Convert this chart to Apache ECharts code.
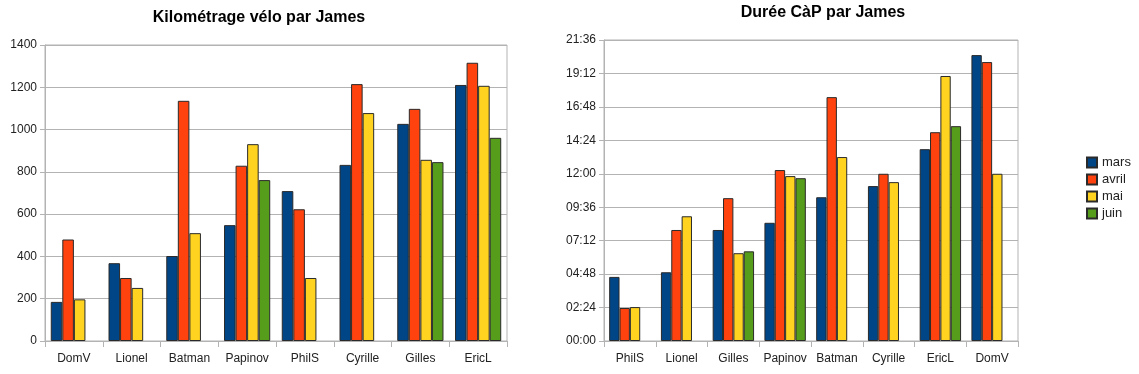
<!DOCTYPE html>
<html>
<head>
<meta charset="utf-8">
<script src="https://cdn.jsdelivr.net/npm/echarts@6/dist/echarts.min.js"></script>
<style>
html,body{margin:0;padding:0;background:#fff;}
#c{width:1139px;height:374px;}
</style>
</head>
<body>
<div id="c"></div>
<script>
const seriesNames = ['mars', 'avril', 'mai', 'juin'];
const seriesColors = ['#004586', '#ff420e', '#ffd320', '#579d1c'];

const kmTitle = 'Kilométrage vélo par James';
const kmCategories = ['DomV', 'Lionel', 'Batman', 'Papinov', 'PhilS', 'Cyrille', 'Gilles', 'EricL'];
const kmMars  = [185, 368, 402, 548, 709, 833, 1027, 1211];
const kmAvril = [480, 298, 1136, 829, 623, 1215, 1098, 1316];
const kmMai   = [197, 251, 510, 931, 298, 1078, 857, 1207];
const kmJuin  = [null, null, null, 761, null, null, 846, 961];

const capTitle = 'Durée CàP par James';
const capCategories = ['PhilS', 'Lionel', 'Gilles', 'Papinov', 'Batman', 'Cyrille', 'EricL', 'DomV'];
const capMars  = ['04:36', '04:56', '07:58', '08:29', '10:19', '11:07', '13:46', '20:31'];
const capAvril = ['02:22', '07:58', '10:15', '12:16', '17:30', '12:00', '14:59', '20:01'];
const capMai   = ['02:26', '08:57', '06:18', '11:50', '13:12', '11:24', '19:01', '12:00'];
const capJuin  = [null, null, '06:26', '11:41', null, null, '15:25', null];
const capTickLabels = ['00:00', '02:24', '04:48', '07:12', '09:36', '12:00', '14:24', '16:48', '19:12', '21:36'];

function toMin(s) {
  if (s === null) return null;
  const p = s.split(':');
  return parseInt(p[0], 10) * 60 + parseInt(p[1], 10);
}
function fmtMin(v) {
  const h = Math.floor(v / 60), m = Math.round(v % 60);
  return (h < 10 ? '0' : '') + h + ':' + (m < 10 ? '0' : '') + m;
}

const FONT = 'Liberation Sans';
const GRID_C = '#b3b3b3';

const kmData = [kmMars, kmAvril, kmMai, kmJuin];
const capData = [capMars, capAvril, capMai, capJuin].map(a => a.map(toMin));
const capMax = toMin(capTickLabels[capTickLabels.length - 1]);
const capInterval = toMin(capTickLabels[1]);

function xAxis(idx, cats) {
  return {
    type: 'category', gridIndex: idx, data: cats,
    axisLine: { lineStyle: { color: GRID_C, width: 1 } },
    axisTick: { show: true, length: 6, lineStyle: { color: GRID_C, width: 1 } },
    axisLabel: { color: '#222', fontFamily: FONT, fontSize: 12, margin: 12, interval: 0, hideOverlap: false }
  };
}

const series = [];
seriesNames.forEach((n, i) => {
  series.push({
    name: n, type: 'bar', xAxisIndex: 0, yAxisIndex: 0, data: kmData[i],
    barGap: '0%', barCategoryGap: '20%',
    itemStyle: { color: seriesColors[i], borderColor: '#2a2a2a', borderWidth: 1 }
  });
});
seriesNames.forEach((n, i) => {
  series.push({
    name: n, type: 'bar', xAxisIndex: 1, yAxisIndex: 1, data: capData[i],
    barGap: '0%', barCategoryGap: '20%',
    itemStyle: { color: seriesColors[i], borderColor: '#2a2a2a', borderWidth: 1 }
  });
});

const chart = echarts.init(document.getElementById('c'), null, { renderer: 'canvas' });
chart.setOption({
  animation: false,
  backgroundColor: '#fff',
  title: [
    { text: kmTitle, left: 259, top: 10, textAlign: 'center', padding: 0,
      textStyle: { fontFamily: FONT, fontSize: 16, fontWeight: 'bold', color: '#000' } },
    { text: capTitle, left: 823, top: 5, textAlign: 'center', padding: 0,
      textStyle: { fontFamily: FONT, fontSize: 16, fontWeight: 'bold', color: '#000' } }
  ],
  legend: {
    data: seriesNames.map(n => ({ name: n, icon: 'rect' })), orient: 'vertical', left: 1086, top: 156, padding: 0,
    itemWidth: 10, itemHeight: 10, itemGap: 4,
    textStyle: { fontFamily: FONT, fontSize: 13, color: '#222' }
  },
  grid: [
    { left: 45, right: 632, top: 45, bottom: 33, show: true, borderColor: GRID_C, borderWidth: 1, backgroundColor: 'transparent' },
    { left: 604, right: 121, top: 40, bottom: 33, show: true, borderColor: GRID_C, borderWidth: 1, backgroundColor: 'transparent' }
  ],
  xAxis: [xAxis(0, kmCategories), xAxis(1, capCategories)],
  yAxis: [
    { type: 'value', gridIndex: 0, min: 0, max: 1400, interval: 200,
      axisLine: { show: true, lineStyle: { color: GRID_C } },
      axisTick: { show: true, length: 5, lineStyle: { color: GRID_C } },
      splitLine: { lineStyle: { color: GRID_C, width: 1 } },
      axisLabel: { color: '#222', fontFamily: FONT, fontSize: 12, margin: 8, formatter: v => String(v) } },
    { type: 'value', gridIndex: 1, min: 0, max: capMax, interval: capInterval,
      axisLine: { show: true, lineStyle: { color: GRID_C } },
      axisTick: { show: true, length: 5, lineStyle: { color: GRID_C } },
      splitLine: { lineStyle: { color: GRID_C, width: 1 } },
      axisLabel: { color: '#222', fontFamily: FONT, fontSize: 12, margin: 8,
        formatter: v => fmtMin(v) } }
  ],
  series: series
});
</script>
</body>
</html>
